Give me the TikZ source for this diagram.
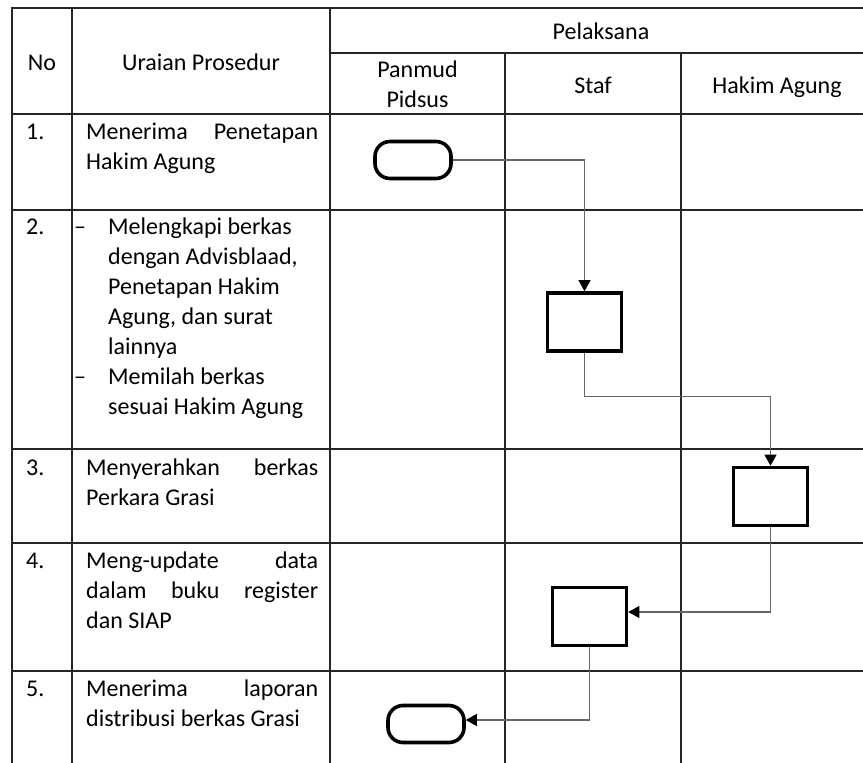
\documentclass[tikz,border=0pt]{standalone}
\usepackage{fontspec}
\setmainfont{Carlito}
\usetikzlibrary{arrows.meta}
\begin{document}
\begin{tikzpicture}[x=1pt,y=-1pt,
  grid/.style={draw=black!85, line width=1.3pt},
  txt/.style={anchor=base west, inner sep=0pt, font=\fontsize{24}{30}\selectfont},
  ctxt/.style={anchor=base, inner sep=0pt, font=\fontsize{24}{30}\selectfont},
  stepbox/.style={draw=black, line width=3.6pt, minimum width=74pt, minimum height=58pt, inner sep=0pt},
  term/.style={draw=black, line width=3.6pt, rounded corners=15pt, minimum width=76pt, minimum height=37pt, inner sep=0pt},
  flow/.style={draw=black!60, line width=1.1pt, -{Triangle[length=11pt,width=12pt,color=black]}}]
\fill[white] (0,0) rectangle (863,763);
\useasboundingbox (0,0) rectangle (863,763);
% table grid
\draw[grid] (12,763) -- (12,8) -- (863,8);
\draw[grid] (72,8) -- (72,763);
\draw[grid] (330,8) -- (330,763);
\draw[grid] (330,53) -- (863,53);
\draw[grid] (505,53) -- (505,763);
\draw[grid] (681,53) -- (681,763);
\foreach \yy in {114,210,449,543,671} \draw[grid] (12,\yy) -- (863,\yy);
% header
\node[ctxt] (hno) at (42,70) {No};
\node[ctxt] (hur) at (201,70) {Uraian Prosedur};
\node[ctxt] (hpel) at (601,39) {Pelaksana};
\node[ctxt] (hpan1) at (417.5,77) {Panmud};
\node[ctxt] (hpan2) at (417.5,107) {Pidsus};
\node[ctxt] (hstaf) at (593,93) {Staf};
\node[ctxt] (hha) at (777,93) {Hakim Agung};
% numbers
\node[txt] (n1) at (26,139) {1.};
\node[txt] (n2) at (26,234) {2.};
\node[txt] (n3) at (26,475) {3.};
\node[txt] (n4) at (26,568) {4.};
\node[txt] (n5) at (26,696) {5.};
% row 1
\node[txt] (r1a) at (86,139) {\makebox[232pt][s]{Menerima Penetapan}};
\node[txt] (r1b) at (86,169) {Hakim Agung};
% row 2
\node[txt] (d1) at (74,234) {–};
\node[txt] (d2) at (74,384) {–};
\node[txt] (r2a) at (108,234) {Melengkapi berkas};
\node[txt] (r2b) at (108,264) {dengan Advisblaad,};
\node[txt] (r2c) at (108,294) {Penetapan Hakim};
\node[txt] (r2d) at (108,324) {Agung, dan surat};
\node[txt] (r2e) at (108,354) {lainnya};
\node[txt] (r2f) at (108,384) {Memilah berkas};
\node[txt] (r2g) at (108,414) {sesuai Hakim Agung};
% row 3
\node[txt] (r3a) at (86,475) {\makebox[232pt][s]{Menyerahkan berkas}};
\node[txt] (r3b) at (86,505) {Perkara Grasi};
% row 4
\node[txt] (r4a) at (86,568) {\makebox[232pt][s]{Meng-update data}};
\node[txt] (r4b) at (86,598) {\makebox[232pt][s]{dalam buku register}};
\node[txt] (r4c) at (86,628) {dan SIAP};
% row 5
\node[txt] (r5a) at (86,696) {\makebox[232pt][s]{Menerima laporan}};
\node[txt] (r5b) at (86,726) {distribusi berkas Grasi};
% flow shapes
\node[term] (t1) at (413,160) {};
\node[stepbox] (b2) at (584.5,322) {};
\node[stepbox] (b3) at (770.5,496.5) {};
\node[stepbox] (b4) at (589.5,616.5) {};
\node[term] (t2) at (426,724) {};
% connectors
\draw[flow] (t1.east) -| (b2.north);
\draw[flow] (b2.south) -- ++(0,44) -| (b3.north);
\draw[flow] (b3.south) |- ([yshift=4.5pt]b4.east);
\draw[flow] (b4.south) |- ([yshift=4pt]t2.east);
\end{tikzpicture}
\end{document}
